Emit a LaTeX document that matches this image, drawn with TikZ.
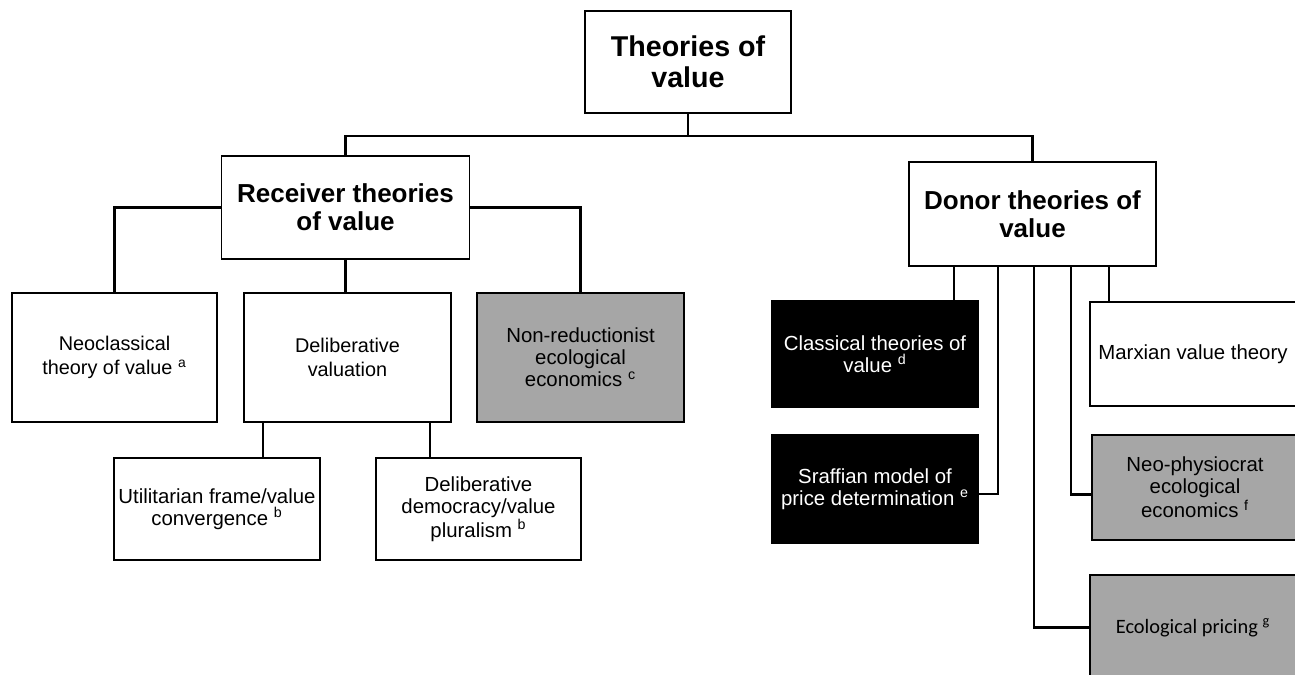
\documentclass[tikz,border=0pt]{standalone}
\usepackage{fontspec}
\setmainfont{Liberation Sans}
\newfontfamily\calibrifont{Carlito}
\usetikzlibrary{positioning}
\definecolor{shade}{HTML}{A6A6A6}

\begin{document}
\begin{tikzpicture}[
  x=0.02cm, y=-0.02cm,
  box/.style={draw=black,fill=#1,line width=1pt,align=center,inner sep=1pt,minimum width=4.12cm,minimum height=2.06cm,font=\fontsize{11.6}{12.6}\selectfont},
  box/.default=white,
  dark/.style={box=black,text=white},
  head/.style={box,minimum width=4.96cm,font=\bfseries\fontsize{14.8}{16}\selectfont},
  link/.style={line width=1.5pt,color=black}
]
\useasboundingbox (0,0) rectangle (1295,674);
\clip (0,0) rectangle (1295,674);
\node[head,minimum width=4.12cm,minimum height=2.04cm,font=\bfseries\fontsize{16.3}{17.6}\selectfont] (top) at (688,62) {Theories of\\value};
\node[head,minimum height=2.06cm] (recv) at (345.5,207.5) {Receiver theories\\of value};
\node[head,minimum width=4.94cm,minimum height=2.08cm] (donor) at (1032.5,214) {Donor theories of\\value};
\node[box,minimum width=4.1cm,minimum height=2.58cm,font=\fontsize{11.3}{13.6}\selectfont] (neoc) at (114.5,357.5) {Neoclassical\\theory of value \textsuperscript{a}};
\node[box,minimum width=4.14cm,minimum height=2.58cm,font=\fontsize{11.3}{13.6}\selectfont] (delib) at (347.5,357.5) {Deliberative\\valuation};
\node[box=shade,minimum width=4.14cm,minimum height=2.58cm] (nonred) at (580.5,357.5) {Non-reductionist\\ecological\\economics \textsuperscript{c}};
\node[box,minimum height=2.04cm] (util) at (217,509) {Utilitarian frame/value\\convergence \textsuperscript{b}};
\node[box,minimum width=4.1cm,minimum height=2.04cm] (demo) at (478.5,509) {Deliberative\\democracy/value\\pluralism \textsuperscript{b}};
\node[dark,minimum height=2.12cm] (class) at (875,354) {Classical theories of\\value \textsuperscript{d}};
\node[dark,minimum height=2.16cm] (sraff) at (875,489) {Sraffian model of\\price determination \textsuperscript{e}};
\node[box,minimum height=2.08cm] (marx) at (1193,354) {Marxian value theory};
\node[box=shade,minimum height=2.1cm] (neophys) at (1195,487.5) {Neo-physiocrat\\ecological\\economics \textsuperscript{f}};
\node[box=shade,minimum height=2.1cm,font=\calibrifont\fontsize{11.6}{12.6}\selectfont] (ecopr) at (1193,627.5) {Ecological pricing \textsuperscript{g}};
\draw[link] (top.south) -- ++(0,22) -| (recv.north);
\draw[link] (top.south) -- ++(0,22) -| (donor.north);
\draw[link] (recv.west) -| (neoc.north);
\draw[link] (recv.east) -| (nonred.north);
\draw[link] (recv.south) -- (recv.south |- delib.north);
\draw[link] (delib.south -| 263,0) -- (util.north -| 263,0);
\draw[link] (delib.south -| 430,0) -- (demo.north -| 430,0);
\draw[link] (donor.south -| 954,0) -- (class.north -| 954,0);
\draw[link] (donor.south -| 998,0) |- ([yshift=-0.1cm]sraff.east);
\draw[link] (donor.south -| 1034,0) |- (ecopr.west);
\draw[link] (donor.south -| 1071,0) |- ([yshift=-0.14cm]neophys.west);
\draw[link] (donor.south -| 1109,0) -- (marx.north -| 1109,0);
\end{tikzpicture}
\end{document}
